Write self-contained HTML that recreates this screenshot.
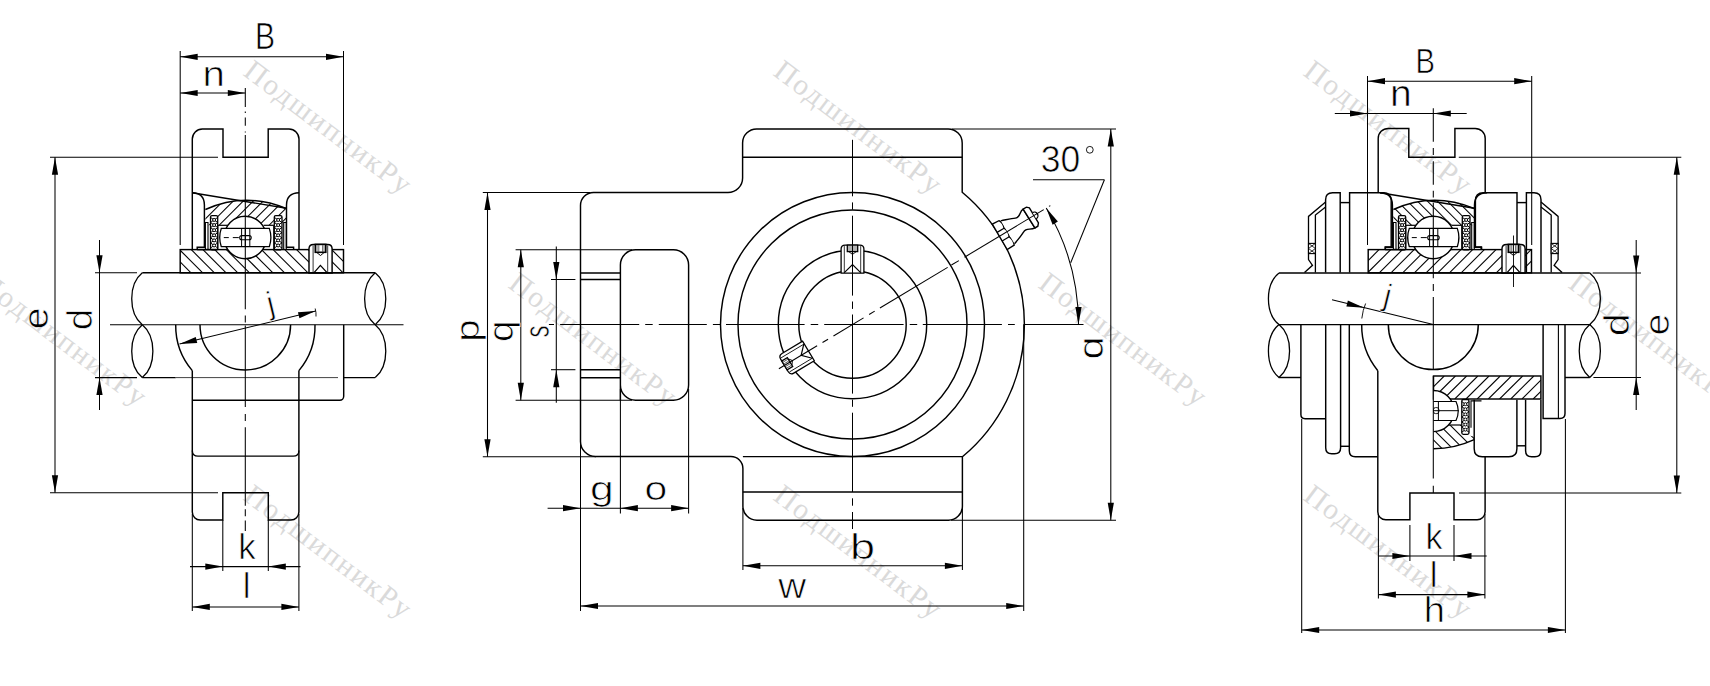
<!DOCTYPE html>
<html><head><meta charset="utf-8"><style>
html,body{margin:0;padding:0;background:#fff;overflow:hidden}
svg{display:block}
</style></head><body>
<svg width="1710" height="686" viewBox="0 0 1710 686">
<rect width="1710" height="686" fill="#fff"/>
<g fill="#dadada" stroke="none" font-family='"Liberation Serif", serif' font-size="29.5" letter-spacing="1.9">
<text x="242.0" y="74.5" transform="rotate(37 242.0 74.5)">ПодшипникРу</text>
<text x="772.0" y="74.5" transform="rotate(37 772.0 74.5)">ПодшипникРу</text>
<text x="1302.0" y="74.5" transform="rotate(37 1302.0 74.5)">ПодшипникРу</text>
<text x="-23.0" y="286.7" transform="rotate(37 -23.0 286.7)">ПодшипникРу</text>
<text x="507.0" y="286.7" transform="rotate(37 507.0 286.7)">ПодшипникРу</text>
<text x="1037.0" y="286.7" transform="rotate(37 1037.0 286.7)">ПодшипникРу</text>
<text x="1567.0" y="286.7" transform="rotate(37 1567.0 286.7)">ПодшипникРу</text>
<text x="242.0" y="498.9" transform="rotate(37 242.0 498.9)">ПодшипникРу</text>
<text x="772.0" y="498.9" transform="rotate(37 772.0 498.9)">ПодшипникРу</text>
<text x="1302.0" y="498.9" transform="rotate(37 1302.0 498.9)">ПодшипникРу</text>
</g>
<g fill="none" stroke="#000" stroke-linecap="butt">
<line x1="180.20" y1="51.00" x2="180.20" y2="245.00" stroke-width="1.05" />
<line x1="343.50" y1="51.00" x2="343.50" y2="245.00" stroke-width="1.05" />
<line x1="180.20" y1="56.80" x2="343.50" y2="56.80" stroke-width="1.05" />
<path d="M180.20,56.80 L197.70,53.70 L197.70,59.90 Z" fill="#000" stroke="none"/>
<path d="M343.50,56.80 L326.00,59.90 L326.00,53.70 Z" fill="#000" stroke="none"/>
<text transform="translate(254.93 49.10) scale(0.834 1)" font-size="36.05" fill="#000" stroke="#fff" stroke-width="0.7" font-family='"Liberation Sans", sans-serif'>B</text>
<line x1="180.20" y1="93.00" x2="245.30" y2="93.00" stroke-width="1.05" />
<path d="M180.20,93.00 L197.70,89.90 L197.70,96.10 Z" fill="#000" stroke="none"/>
<path d="M245.30,93.00 L227.80,96.10 L227.80,89.90 Z" fill="#000" stroke="none"/>
<text transform="translate(202.54 85.80) scale(1.158 1)" font-size="34.76" fill="#000" stroke="#fff" stroke-width="0.7" font-family='"Liberation Sans", sans-serif'>n</text>
<path d="M192.3,249.6 V139 A10,10 0 0 1 202.3,129 H223 V157.2 H268.2 V129 H289 A10,10 0 0 1 299,139 V249.6" stroke-width="1.45" />
<line x1="50.00" y1="157.20" x2="218.00" y2="157.20" stroke-width="1.05" />
<line x1="50.00" y1="492.70" x2="218.00" y2="492.70" stroke-width="1.05" />
<line x1="55.00" y1="157.20" x2="55.00" y2="492.70" stroke-width="1.05" />
<path d="M55.00,157.20 L58.10,174.70 L51.90,174.70 Z" fill="#000" stroke="none"/>
<path d="M55.00,492.70 L51.90,475.20 L58.10,475.20 Z" fill="#000" stroke="none"/>
<text transform="translate(47.64 329.24) rotate(-90) scale(1.089 1)" font-size="35.95" fill="#000" stroke="#fff" stroke-width="0.7" font-family='"Liberation Sans", sans-serif'>e</text>
<line x1="99.50" y1="240.00" x2="99.50" y2="410.00" stroke-width="1.05" />
<path d="M99.50,272.80 L96.40,255.30 L102.60,255.30 Z" fill="#000" stroke="none"/>
<path d="M99.50,377.60 L102.60,395.10 L96.40,395.10 Z" fill="#000" stroke="none"/>
<line x1="95.00" y1="272.80" x2="137.00" y2="272.80" stroke-width="1.05" />
<line x1="95.00" y1="377.60" x2="137.00" y2="377.60" stroke-width="1.05" />
<text transform="translate(91.85 330.13) rotate(-90) scale(1.108 1)" font-size="35.10" fill="#000" stroke="#fff" stroke-width="0.7" font-family='"Liberation Sans", sans-serif'>d</text>
<path d="M192.10000000000002,192.7 Q204.4,193 204.4,205 V247.2 H197.20000000000002 V249.8" stroke-width="1.45" />
<path d="M299.1,192.7 Q286.5,193 286.5,205 V247.2 H293.6 V249.8" stroke-width="1.45" />
<line x1="192.10" y1="192.70" x2="286.50" y2="208.20" stroke-width="1.45" />
<clipPath id="c1"><path d="M205.4,209.5 Q245.3,191.6 286.0,208.5 L286.2,225.3 L205.4,225.3 Z"/></clipPath>
<g clip-path="url(#c1)">
<line x1="194.30" y1="190.00" x2="158.30" y2="226.00" stroke-width="1.05" />
<line x1="204.30" y1="190.00" x2="168.30" y2="226.00" stroke-width="1.05" />
<line x1="214.30" y1="190.00" x2="178.30" y2="226.00" stroke-width="1.05" />
<line x1="224.30" y1="190.00" x2="188.30" y2="226.00" stroke-width="1.05" />
<line x1="234.30" y1="190.00" x2="198.30" y2="226.00" stroke-width="1.05" />
<line x1="244.30" y1="190.00" x2="208.30" y2="226.00" stroke-width="1.05" />
<line x1="254.30" y1="190.00" x2="218.30" y2="226.00" stroke-width="1.05" />
<line x1="264.30" y1="190.00" x2="228.30" y2="226.00" stroke-width="1.05" />
<line x1="274.30" y1="190.00" x2="238.30" y2="226.00" stroke-width="1.05" />
<line x1="284.30" y1="190.00" x2="248.30" y2="226.00" stroke-width="1.05" />
<line x1="294.30" y1="190.00" x2="258.30" y2="226.00" stroke-width="1.05" />
<line x1="304.30" y1="190.00" x2="268.30" y2="226.00" stroke-width="1.05" />
<line x1="314.30" y1="190.00" x2="278.30" y2="226.00" stroke-width="1.05" />
<line x1="324.30" y1="190.00" x2="288.30" y2="226.00" stroke-width="1.05" />
<line x1="334.30" y1="190.00" x2="298.30" y2="226.00" stroke-width="1.05" />
<line x1="344.30" y1="190.00" x2="308.30" y2="226.00" stroke-width="1.05" />
<line x1="354.30" y1="190.00" x2="318.30" y2="226.00" stroke-width="1.05" />
<line x1="364.30" y1="190.00" x2="328.30" y2="226.00" stroke-width="1.05" />
</g>
<path d="M205.4,209.5 Q245.3,191.6 286.0,208.5" stroke-width="1.45" />
<line x1="217.70" y1="225.30" x2="227.90" y2="225.30" stroke-width="1.2" />
<line x1="263.60" y1="225.30" x2="273.80" y2="225.30" stroke-width="1.2" />
<line x1="217.70" y1="225.30" x2="217.70" y2="249.80" stroke-width="1.2" />
<line x1="273.80" y1="225.30" x2="273.80" y2="249.80" stroke-width="1.2" />
<path d="M205.4,249.8 V222.5 H208.0 V249.8" stroke-width="1.1" />
<path d="M286.3,249.8 V222.5 H283.7 V249.8" stroke-width="1.1" />
<rect x="210.5" y="215.6" width="7.200000000000017" height="34.20000000000002" fill="#fff" stroke-width="1.3" rx="1.5"/>
<line x1="210.50" y1="217.40" x2="217.70" y2="222.50" stroke-width="1.0" />
<line x1="217.70" y1="217.40" x2="210.50" y2="222.50" stroke-width="1.0" />
<line x1="210.50" y1="222.50" x2="217.70" y2="227.60" stroke-width="1.0" />
<line x1="217.70" y1="222.50" x2="210.50" y2="227.60" stroke-width="1.0" />
<line x1="210.50" y1="227.60" x2="217.70" y2="232.70" stroke-width="1.0" />
<line x1="217.70" y1="227.60" x2="210.50" y2="232.70" stroke-width="1.0" />
<line x1="210.50" y1="232.70" x2="217.70" y2="237.80" stroke-width="1.0" />
<line x1="217.70" y1="232.70" x2="210.50" y2="237.80" stroke-width="1.0" />
<line x1="210.50" y1="237.80" x2="217.70" y2="242.90" stroke-width="1.0" />
<line x1="217.70" y1="237.80" x2="210.50" y2="242.90" stroke-width="1.0" />
<line x1="210.50" y1="242.90" x2="217.70" y2="248.00" stroke-width="1.0" />
<line x1="217.70" y1="242.90" x2="210.50" y2="248.00" stroke-width="1.0" />
<circle cx="214.10" cy="219.95" r="1.50" stroke-width="1.0" fill="#fff"/>
<circle cx="214.10" cy="225.05" r="1.50" stroke-width="1.0" fill="#fff"/>
<circle cx="214.10" cy="230.15" r="1.50" stroke-width="1.0" fill="#fff"/>
<circle cx="214.10" cy="235.25" r="1.50" stroke-width="1.0" fill="#fff"/>
<circle cx="214.10" cy="240.35" r="1.50" stroke-width="1.0" fill="#fff"/>
<circle cx="214.10" cy="245.45" r="1.50" stroke-width="1.0" fill="#fff"/>
<rect x="274.3" y="215.6" width="7.699999999999989" height="34.20000000000002" fill="#fff" stroke-width="1.3" rx="1.5"/>
<line x1="274.30" y1="217.40" x2="282.00" y2="222.50" stroke-width="1.0" />
<line x1="282.00" y1="217.40" x2="274.30" y2="222.50" stroke-width="1.0" />
<line x1="274.30" y1="222.50" x2="282.00" y2="227.60" stroke-width="1.0" />
<line x1="282.00" y1="222.50" x2="274.30" y2="227.60" stroke-width="1.0" />
<line x1="274.30" y1="227.60" x2="282.00" y2="232.70" stroke-width="1.0" />
<line x1="282.00" y1="227.60" x2="274.30" y2="232.70" stroke-width="1.0" />
<line x1="274.30" y1="232.70" x2="282.00" y2="237.80" stroke-width="1.0" />
<line x1="282.00" y1="232.70" x2="274.30" y2="237.80" stroke-width="1.0" />
<line x1="274.30" y1="237.80" x2="282.00" y2="242.90" stroke-width="1.0" />
<line x1="282.00" y1="237.80" x2="274.30" y2="242.90" stroke-width="1.0" />
<line x1="274.30" y1="242.90" x2="282.00" y2="248.00" stroke-width="1.0" />
<line x1="282.00" y1="242.90" x2="274.30" y2="248.00" stroke-width="1.0" />
<circle cx="278.15" cy="219.95" r="1.50" stroke-width="1.0" fill="#fff"/>
<circle cx="278.15" cy="225.05" r="1.50" stroke-width="1.0" fill="#fff"/>
<circle cx="278.15" cy="230.15" r="1.50" stroke-width="1.0" fill="#fff"/>
<circle cx="278.15" cy="235.25" r="1.50" stroke-width="1.0" fill="#fff"/>
<circle cx="278.15" cy="240.35" r="1.50" stroke-width="1.0" fill="#fff"/>
<circle cx="278.15" cy="245.45" r="1.50" stroke-width="1.0" fill="#fff"/>
<clipPath id="c2"><rect x="180.20000000000002" y="249.7" width="163.3" height="23.1"/></clipPath>
<g clip-path="url(#c2)">
<line x1="144.50" y1="249.70" x2="167.60" y2="272.80" stroke-width="1.1" />
<line x1="156.20" y1="249.70" x2="179.30" y2="272.80" stroke-width="1.1" />
<line x1="167.90" y1="249.70" x2="191.00" y2="272.80" stroke-width="1.1" />
<line x1="179.60" y1="249.70" x2="202.70" y2="272.80" stroke-width="1.1" />
<line x1="191.30" y1="249.70" x2="214.40" y2="272.80" stroke-width="1.1" />
<line x1="203.00" y1="249.70" x2="226.10" y2="272.80" stroke-width="1.1" />
<line x1="214.70" y1="249.70" x2="237.80" y2="272.80" stroke-width="1.1" />
<line x1="226.40" y1="249.70" x2="249.50" y2="272.80" stroke-width="1.1" />
<line x1="238.10" y1="249.70" x2="261.20" y2="272.80" stroke-width="1.1" />
<line x1="249.80" y1="249.70" x2="272.90" y2="272.80" stroke-width="1.1" />
<line x1="261.50" y1="249.70" x2="284.60" y2="272.80" stroke-width="1.1" />
<line x1="273.20" y1="249.70" x2="296.30" y2="272.80" stroke-width="1.1" />
<line x1="284.90" y1="249.70" x2="308.00" y2="272.80" stroke-width="1.1" />
<line x1="296.60" y1="249.70" x2="319.70" y2="272.80" stroke-width="1.1" />
<line x1="308.30" y1="249.70" x2="331.40" y2="272.80" stroke-width="1.1" />
<line x1="320.00" y1="249.70" x2="343.10" y2="272.80" stroke-width="1.1" />
<line x1="331.70" y1="249.70" x2="354.80" y2="272.80" stroke-width="1.1" />
<line x1="343.40" y1="249.70" x2="366.50" y2="272.80" stroke-width="1.1" />
<line x1="355.10" y1="249.70" x2="378.20" y2="272.80" stroke-width="1.1" />
<line x1="366.80" y1="249.70" x2="389.90" y2="272.80" stroke-width="1.1" />
<line x1="378.50" y1="249.70" x2="401.60" y2="272.80" stroke-width="1.1" />
</g>
<rect x="180.20000000000002" y="249.6" width="163.3" height="23.2" fill="none" stroke-width="1.45"/>
<circle cx="245.20" cy="237.50" r="21.20" stroke-width="1.45" fill="#fff"/>
<path d="M221.3,228.4 H269.3 Q272.5,237.5 269.3,246.7 H221.3 Q218.10000000000002,237.5 221.3,228.4 Z" fill="#fff" stroke-width="1.3"/>
<line x1="241.60" y1="228.40" x2="241.60" y2="246.70" stroke-width="1.0" />
<line x1="245.30" y1="228.40" x2="245.30" y2="246.70" stroke-width="1.0" />
<line x1="249.80" y1="228.40" x2="249.80" y2="246.70" stroke-width="1.0" />
<line x1="223.80" y1="237.60" x2="228.80" y2="237.60" stroke-width="1.0" />
<line x1="232.80" y1="237.60" x2="238.80" y2="237.60" stroke-width="1.0" />
<rect x="239.70000000000002" y="235.6" width="11.5" height="4.2" rx="2" fill="none" stroke-width="1.1"/>
<line x1="197.20" y1="249.60" x2="217.70" y2="249.60" stroke-width="1.45" />
<path d="M309.0,273.0 V248.8 Q309.0,244.4 313.4,244.4 H327.70000000000005 Q332.1,244.4 332.1,248.8 V273.0 Z" fill="#fff" stroke-width="1.45"/>
<line x1="313.10" y1="245.40" x2="313.10" y2="273.00" stroke-width="0.8" />
<line x1="327.70" y1="245.40" x2="327.70" y2="273.00" stroke-width="0.8" />
<rect x="315.3" y="244.4" width="10.5" height="7.9" fill="#fff" stroke-width="1.6"/>
<line x1="317.00" y1="245.20" x2="317.00" y2="251.60" stroke-width="0.6" />
<line x1="318.80" y1="245.20" x2="318.80" y2="251.60" stroke-width="0.6" />
<line x1="322.60" y1="245.20" x2="322.60" y2="251.60" stroke-width="0.6" />
<line x1="324.10" y1="245.20" x2="324.10" y2="251.60" stroke-width="0.6" />
<path d="M316.9,252.6 L320.5,255.5 L324.0,252.6" stroke-width="1.0" />
<path d="M314.3,272.4 L320.4,265.4 L326.8,272.4" stroke-width="1.3" />
<line x1="142.30" y1="272.80" x2="375.20" y2="272.80" stroke-width="1.45" />
<line x1="142.30" y1="377.60" x2="175.70" y2="377.60" stroke-width="1.45" />
<line x1="175.70" y1="377.60" x2="338.00" y2="377.60" stroke-width="1.0" stroke="#444"/>
<line x1="343.70" y1="377.60" x2="375.20" y2="377.60" stroke-width="1.45" />
<path d="M142.3,272.8 C128.202,284.218 128.202,313.282 142.3,324.7" stroke-width="1.3" />
<path d="M142.3,324.7 C128.202,336.338 128.202,365.962 142.3,377.6" stroke-width="1.3" />
<path d="M142.3,324.7 C156.39800000000002,336.338 156.39800000000002,365.962 142.3,377.6" stroke-width="1.3" />
<path d="M375.2,272.8 C389.298,284.218 389.298,313.282 375.2,324.7" stroke-width="1.3" />
<path d="M375.2,272.8 C361.102,284.218 361.102,313.282 375.2,324.7" stroke-width="1.3" />
<path d="M375.2,324.7 C389.298,336.338 389.298,365.962 375.2,377.6" stroke-width="1.3" />
<line x1="110.00" y1="324.70" x2="403.50" y2="324.70" stroke-width="1.1" />
<path d="M175.7,324.7 A69.6,69.6 0 0 0 192.3,370.6" stroke-width="1.45" />
<path d="M315,324.7 A69.6,69.6 0 0 1 298.9,370.6" stroke-width="1.45" />
<path d="M200,324.7 A45.3,45.3 0 0 0 290.6,324.7" stroke-width="1.45" />
<path d="M192.3,370.6 V512 A8,8 0 0 0 200.3,520 H222.8 V492.7 H268.3 V520 H290.9 A8,8 0 0 0 298.9,512 V370.6" stroke-width="1.45" />
<path d="M343.7,324.7 V396.3 A4,4 0 0 1 339.7,400.3 H192.3" stroke-width="1.45" />
<path d="M192.3,450.5 Q192.3,456.2 198,456.2 H293.2 Q298.9,456.2 298.9,450.5" stroke-width="1.3" />
<line x1="222.80" y1="520.00" x2="222.80" y2="571.00" stroke-width="1.05" />
<line x1="268.30" y1="520.00" x2="268.30" y2="571.00" stroke-width="1.05" />
<line x1="190.00" y1="566.60" x2="300.50" y2="566.60" stroke-width="1.05" />
<path d="M222.80,566.60 L205.30,569.70 L205.30,563.50 Z" fill="#000" stroke="none"/>
<path d="M268.30,566.60 L285.80,563.50 L285.80,569.70 Z" fill="#000" stroke="none"/>
<text transform="translate(238.15 559.40) scale(0.977 1)" font-size="35.86" fill="#000" stroke="#fff" stroke-width="0.7" font-family='"Liberation Sans", sans-serif'>k</text>
<line x1="192.30" y1="514.00" x2="192.30" y2="611.00" stroke-width="1.05" />
<line x1="298.90" y1="514.00" x2="298.90" y2="611.00" stroke-width="1.05" />
<line x1="192.30" y1="606.90" x2="298.90" y2="606.90" stroke-width="1.05" />
<path d="M192.30,606.90 L209.80,603.80 L209.80,610.00 Z" fill="#000" stroke="none"/>
<path d="M298.90,606.90 L281.40,610.00 L281.40,603.80 Z" fill="#000" stroke="none"/>
<text transform="translate(242.75 598.10) scale(1.000 1)" font-size="35.03" fill="#000" stroke="#fff" stroke-width="0.7" font-family='"Liberation Sans", sans-serif'>l</text>
<line x1="179.50" y1="344.10" x2="315.70" y2="311.10" stroke-width="1.05" />
<path d="M179.50,344.10 L195.78,336.97 L197.24,342.99 Z" fill="#000" stroke="none"/>
<path d="M315.70,311.10 L299.42,318.23 L297.96,312.21 Z" fill="#000" stroke="none"/>
<g transform="translate(269.50 306.00) rotate(-13.6)"><text x="-2.11" y="8.31" font-size="32.15" fill="#000" stroke="#fff" stroke-width="0.7" font-family='"Liberation Sans", sans-serif'>j</text></g>
<path d="M315.2,308.5 Q316.3,312.5 316,316.5" stroke-width="0.9" />
<line x1="245.30" y1="87.90" x2="245.30" y2="107.10" stroke-width="1.05" />
<line x1="245.30" y1="111.50" x2="245.30" y2="112.90" stroke-width="1.05" />
<line x1="245.30" y1="117.60" x2="245.30" y2="125.80" stroke-width="1.05" />
<line x1="245.30" y1="131.60" x2="245.30" y2="132.50" stroke-width="1.05" />
<line x1="245.30" y1="135.10" x2="245.30" y2="309.30" stroke-width="1.05" />
<line x1="245.30" y1="315.40" x2="245.30" y2="322.60" stroke-width="1.05" />
<line x1="245.30" y1="325.50" x2="245.30" y2="407.10" stroke-width="1.05" />
<line x1="245.30" y1="414.10" x2="245.30" y2="421.10" stroke-width="1.05" />
<line x1="245.30" y1="427.20" x2="245.30" y2="505.70" stroke-width="1.05" />
<line x1="245.30" y1="509.20" x2="245.30" y2="516.20" stroke-width="1.05" />
<line x1="245.30" y1="520.60" x2="245.30" y2="531.10" stroke-width="1.05" />
<path d="M580.5,205.5 A13,13 0 0 1 593.5,192.5 H728 A14.6,14.6 0 0 0 742.6,177.9 V143 A14,14 0 0 1 756.6,129 H948.2 A14,14 0 0 1 962.2,143 V192.2 A172,172 0 0 1 962.4,456.8 V506.2 A14,14 0 0 1 948.4,520.2 H756.9 A14,14 0 0 1 742.9,506.2 V468.5 A12,12 0 0 0 730.9,456.5 H595.5 A15,15 0 0 1 580.5,441.5 Z" stroke-width="1.45" />
<line x1="742.60" y1="157.20" x2="962.20" y2="157.20" stroke-width="1.45" />
<line x1="742.90" y1="491.90" x2="962.40" y2="491.90" stroke-width="1.45" />
<line x1="742.90" y1="456.60" x2="962.40" y2="456.60" stroke-width="1.45" />
<circle cx="852.50" cy="324.50" r="132.00" stroke-width="1.45" />
<circle cx="852.50" cy="324.50" r="114.50" stroke-width="1.45" />
<circle cx="852.50" cy="324.50" r="74.20" stroke-width="1.45" />
<circle cx="852.50" cy="324.50" r="53.70" stroke-width="1.45" />
<path d="M620.4,400.3 V264.9 A15.2,15.2 0 0 1 635.6,249.7 H673.4 A15.2,15.2 0 0 1 688.6,264.9 V385.1 A15.2,15.2 0 0 1 673.4,400.3 H635.6 A15.2,15.2 0 0 1 620.4,385.1" stroke-width="1.45" />
<line x1="580.50" y1="272.90" x2="620.40" y2="272.90" stroke-width="1.45" />
<line x1="580.50" y1="279.50" x2="620.40" y2="279.50" stroke-width="1.45" />
<line x1="580.50" y1="369.70" x2="620.40" y2="369.70" stroke-width="1.45" />
<line x1="580.50" y1="377.70" x2="620.40" y2="377.70" stroke-width="1.45" />
<g transform="translate(852.5 324.5) rotate(0)">
<path d="M-11.4,-51.4 V-75.4 Q-11.4,-79.4 -7.4,-79.4 H7.4 Q11.4,-79.4 11.4,-75.4 V-51.4 Z" fill="#fff" stroke-width="1.3"/>
<line x1="-8.20" y1="-78.40" x2="-8.20" y2="-51.40" stroke-width="0.8" />
<line x1="8.20" y1="-78.40" x2="8.20" y2="-51.40" stroke-width="0.8" />
<rect x="-5.2" y="-79.4" width="10.4" height="6.5" fill="#fff" stroke-width="1.3"/>
<line x1="-3.50" y1="-78.80" x2="-3.50" y2="-73.40" stroke-width="0.6" />
<line x1="-1.50" y1="-78.80" x2="-1.50" y2="-73.40" stroke-width="0.6" />
<line x1="1.50" y1="-78.80" x2="1.50" y2="-73.40" stroke-width="0.6" />
<line x1="3.50" y1="-78.80" x2="3.50" y2="-73.40" stroke-width="0.6" />
<path d="M-3.5,-72.7 L0,-70.10000000000001 L3.5,-72.7" stroke-width="0.9" />
<path d="M-8.2,-51.9 L0,-59.9 L8.2,-51.9" stroke-width="1.2" />
</g>
<g transform="translate(852.5 324.5) rotate(-121)">
<path d="M-11.4,-51.4 V-75.4 Q-11.4,-79.4 -7.4,-79.4 H7.4 Q11.4,-79.4 11.4,-75.4 V-51.4 Z" fill="#fff" stroke-width="1.3"/>
<line x1="-8.20" y1="-78.40" x2="-8.20" y2="-51.40" stroke-width="0.8" />
<line x1="8.20" y1="-78.40" x2="8.20" y2="-51.40" stroke-width="0.8" />
<rect x="-5.2" y="-79.4" width="10.4" height="6.5" fill="#fff" stroke-width="1.3"/>
<line x1="-3.50" y1="-78.80" x2="-3.50" y2="-73.40" stroke-width="0.6" />
<line x1="-1.50" y1="-78.80" x2="-1.50" y2="-73.40" stroke-width="0.6" />
<line x1="1.50" y1="-78.80" x2="1.50" y2="-73.40" stroke-width="0.6" />
<line x1="3.50" y1="-78.80" x2="3.50" y2="-73.40" stroke-width="0.6" />
<path d="M-3.5,-72.7 L0,-70.10000000000001 L3.5,-72.7" stroke-width="0.9" />
<path d="M-8.2,-51.9 L0,-59.9 L8.2,-51.9" stroke-width="1.2" />
</g>
<g transform="translate(852.5 324.5) rotate(-31)">
<path d="M171.5,-14 L179,-13.5 Q181.5,-9.5 179.5,-4.5 Q182,0.5 179.5,5.5 Q181.5,10.5 179.5,15.2 L171.2,15.4 Z" fill="#fff" stroke-width="1.4"/>
<line x1="171.40" y1="-4.50" x2="179.50" y2="-4.50" stroke-width="1.2" />
<line x1="171.30" y1="5.50" x2="179.50" y2="5.50" stroke-width="1.2" />
<path d="M180.5,-12.5 C186,-10.5 191,-9 194.4,-7.3 C199,-5 201,-11 205.7,-11 L206.1,11.2 C201,11.2 199,6 194.4,8.8 C191,10.5 186,12.5 180.5,14.2" fill="#fff" stroke-width="1.4"/>
<path d="M205.7,-11 L209.5,-11 L211.7,-8.9 L211.7,8.7 L209.5,11.2 L206.1,11.2 Z" fill="#fff" stroke-width="1.4"/>
<path d="M211.9,-3.2 A3.6,3.6 0 0 1 211.9,4" fill="#fff" stroke-width="1.3"/>
</g>
<line x1="482.80" y1="192.50" x2="590.00" y2="192.50" stroke-width="1.05" />
<line x1="482.80" y1="456.70" x2="596.00" y2="456.70" stroke-width="1.05" />
<line x1="487.50" y1="192.50" x2="487.50" y2="456.70" stroke-width="1.05" />
<path d="M487.50,192.50 L490.60,210.00 L484.40,210.00 Z" fill="#000" stroke="none"/>
<path d="M487.50,456.70 L484.40,439.20 L490.60,439.20 Z" fill="#000" stroke="none"/>
<text transform="translate(479.45 341.67) rotate(-90) scale(1.186 1)" font-size="33.91" fill="#000" stroke="#fff" stroke-width="0.7" font-family='"Liberation Sans", sans-serif'>p</text>
<line x1="515.60" y1="249.70" x2="632.00" y2="249.70" stroke-width="1.05" />
<line x1="515.60" y1="400.30" x2="632.00" y2="400.30" stroke-width="1.05" />
<line x1="520.80" y1="249.70" x2="520.80" y2="400.30" stroke-width="1.05" />
<path d="M520.80,249.70 L523.90,267.20 L517.70,267.20 Z" fill="#000" stroke="none"/>
<path d="M520.80,400.30 L517.70,382.80 L523.90,382.80 Z" fill="#000" stroke="none"/>
<text transform="translate(512.86 342.02) rotate(-90) scale(1.127 1)" font-size="34.32" fill="#000" stroke="#fff" stroke-width="0.7" font-family='"Liberation Sans", sans-serif'>q</text>
<line x1="551.00" y1="279.50" x2="575.40" y2="279.50" stroke-width="1.05" />
<line x1="551.00" y1="369.70" x2="575.40" y2="369.70" stroke-width="1.05" />
<line x1="556.30" y1="246.60" x2="556.30" y2="402.70" stroke-width="1.05" />
<path d="M556.30,279.50 L553.20,262.00 L559.40,262.00 Z" fill="#000" stroke="none"/>
<path d="M556.30,369.70 L559.40,387.20 L553.20,387.20 Z" fill="#000" stroke="none"/>
<text transform="translate(549.15 337.47) rotate(-90) scale(0.679 1)" font-size="35.47" fill="#000" stroke="#fff" stroke-width="0.7" font-family='"Liberation Sans", sans-serif'>s</text>
<line x1="580.50" y1="441.00" x2="580.50" y2="611.00" stroke-width="1.05" />
<line x1="620.40" y1="389.00" x2="620.40" y2="513.50" stroke-width="1.05" />
<line x1="688.60" y1="389.00" x2="688.60" y2="513.50" stroke-width="1.05" />
<line x1="547.60" y1="508.20" x2="688.60" y2="508.20" stroke-width="1.05" />
<path d="M580.50,508.20 L563.00,511.30 L563.00,505.10 Z" fill="#000" stroke="none"/>
<path d="M620.40,508.20 L637.90,505.10 L637.90,511.30 Z" fill="#000" stroke="none"/>
<path d="M688.60,508.20 L671.10,511.30 L671.10,505.10 Z" fill="#000" stroke="none"/>
<text transform="translate(590.11 500.26) scale(1.297 1)" font-size="32.89" fill="#000" stroke="#fff" stroke-width="0.7" font-family='"Liberation Sans", sans-serif'>g</text>
<text transform="translate(644.38 500.27) scale(1.245 1)" font-size="32.85" fill="#000" stroke="#fff" stroke-width="0.7" font-family='"Liberation Sans", sans-serif'>o</text>
<line x1="742.90" y1="508.00" x2="742.90" y2="570.00" stroke-width="1.05" />
<line x1="962.40" y1="508.00" x2="962.40" y2="570.00" stroke-width="1.05" />
<line x1="742.90" y1="565.80" x2="962.40" y2="565.80" stroke-width="1.05" />
<path d="M742.90,565.80 L760.40,562.70 L760.40,568.90 Z" fill="#000" stroke="none"/>
<path d="M962.40,565.80 L944.90,568.90 L944.90,562.70 Z" fill="#000" stroke="none"/>
<text transform="translate(850.08 559.05) scale(1.287 1)" font-size="34.97" fill="#000" stroke="#fff" stroke-width="0.7" font-family='"Liberation Sans", sans-serif'>b</text>
<line x1="1023.70" y1="324.50" x2="1023.70" y2="611.00" stroke-width="1.05" />
<line x1="580.50" y1="606.00" x2="1023.70" y2="606.00" stroke-width="1.05" />
<path d="M580.50,606.00 L598.00,602.90 L598.00,609.10 Z" fill="#000" stroke="none"/>
<path d="M1023.70,606.00 L1006.20,609.10 L1006.20,602.90 Z" fill="#000" stroke="none"/>
<text transform="translate(778.24 597.90) scale(1.090 1)" font-size="35.42" fill="#000" stroke="#fff" stroke-width="0.7" font-family='"Liberation Sans", sans-serif'>w</text>
<line x1="952.00" y1="129.00" x2="1116.00" y2="129.00" stroke-width="1.05" />
<line x1="951.00" y1="520.20" x2="1116.00" y2="520.20" stroke-width="1.05" />
<line x1="1110.80" y1="129.00" x2="1110.80" y2="520.20" stroke-width="1.05" />
<path d="M1110.80,129.00 L1113.90,146.50 L1107.70,146.50 Z" fill="#000" stroke="none"/>
<path d="M1110.80,520.20 L1107.70,502.70 L1113.90,502.70 Z" fill="#000" stroke="none"/>
<text transform="translate(1103.15 359.55) rotate(-90) scale(1.174 1)" font-size="35.40" fill="#000" stroke="#fff" stroke-width="0.7" font-family='"Liberation Sans", sans-serif'>&#x251;</text>
<line x1="1023.60" y1="324.50" x2="1083.50" y2="324.50" stroke-width="1.05" />
<path d="M1078.5,324.5 A226,226 0 0 0 1046.22,208.10" stroke-width="1.05" />
<path d="M1078.50,324.50 L1075.40,307.00 L1081.60,307.00 Z" fill="#000" stroke="none"/>
<path d="M1046.22,208.10 L1057.89,221.51 L1052.58,224.70 Z" fill="#000" stroke="none"/>
<line x1="1033.00" y1="179.70" x2="1104.40" y2="179.70" stroke-width="1.05" />
<line x1="1104.40" y1="179.70" x2="1070.70" y2="262.80" stroke-width="1.05" />
<text transform="translate(1040.75 172.04) scale(0.983 1)" font-size="36.16" fill="#000" stroke="#fff" stroke-width="0.7" font-family='"Liberation Sans", sans-serif'>30</text>
<circle cx="1089.80" cy="149.80" r="3.40" stroke-width="0.9" />
<line x1="852.50" y1="139.80" x2="852.50" y2="196.30" stroke-width="1.05" />
<line x1="852.50" y1="202.40" x2="852.50" y2="209.60" stroke-width="1.05" />
<line x1="852.50" y1="215.70" x2="852.50" y2="295.60" stroke-width="1.05" />
<line x1="852.50" y1="301.50" x2="852.50" y2="308.90" stroke-width="1.05" />
<line x1="852.50" y1="314.50" x2="852.50" y2="393.60" stroke-width="1.05" />
<line x1="852.50" y1="399.70" x2="852.50" y2="406.80" stroke-width="1.05" />
<line x1="852.50" y1="412.70" x2="852.50" y2="492.00" stroke-width="1.05" />
<line x1="852.50" y1="498.30" x2="852.50" y2="505.70" stroke-width="1.05" />
<line x1="852.50" y1="512.00" x2="852.50" y2="529.00" stroke-width="1.05" />
<line x1="548.90" y1="324.50" x2="554.00" y2="324.50" stroke-width="1.05" />
<line x1="560.10" y1="324.50" x2="639.20" y2="324.50" stroke-width="1.05" />
<line x1="645.20" y1="324.50" x2="652.70" y2="324.50" stroke-width="1.05" />
<line x1="658.80" y1="324.50" x2="706.80" y2="324.50" stroke-width="1.05" />
<line x1="712.90" y1="324.50" x2="720.90" y2="324.50" stroke-width="1.05" />
<line x1="726.00" y1="324.50" x2="804.60" y2="324.50" stroke-width="1.05" />
<line x1="810.70" y1="324.50" x2="818.20" y2="324.50" stroke-width="1.05" />
<line x1="824.20" y1="324.50" x2="903.60" y2="324.50" stroke-width="1.05" />
<line x1="909.70" y1="324.50" x2="917.20" y2="324.50" stroke-width="1.05" />
<line x1="922.80" y1="324.50" x2="1001.90" y2="324.50" stroke-width="1.05" />
<line x1="1008.00" y1="324.50" x2="1014.80" y2="324.50" stroke-width="1.05" />
<line x1="778.87" y1="368.74" x2="817.10" y2="345.77" stroke-width="1.05" />
<line x1="822.50" y1="342.53" x2="828.07" y2="339.18" stroke-width="1.05" />
<line x1="833.47" y1="335.93" x2="863.56" y2="317.86" stroke-width="1.05" />
<line x1="869.13" y1="314.51" x2="874.70" y2="311.16" stroke-width="1.05" />
<line x1="879.93" y1="308.02" x2="947.65" y2="267.33" stroke-width="1.05" />
<line x1="951.42" y1="265.06" x2="958.87" y2="260.58" stroke-width="1.05" />
<line x1="964.53" y1="257.18" x2="1043.73" y2="209.60" stroke-width="1.05" />
<line x1="1049.05" y1="206.40" x2="1050.33" y2="205.63" stroke-width="1.05" />
<line x1="1367.50" y1="76.00" x2="1367.50" y2="245.00" stroke-width="1.05" />
<line x1="1531.70" y1="76.00" x2="1531.70" y2="245.00" stroke-width="1.05" />
<line x1="1367.50" y1="81.20" x2="1531.70" y2="81.20" stroke-width="1.05" />
<path d="M1367.50,81.20 L1385.00,78.10 L1385.00,84.30 Z" fill="#000" stroke="none"/>
<path d="M1531.70,81.20 L1514.20,84.30 L1514.20,78.10 Z" fill="#000" stroke="none"/>
<text transform="translate(1415.41 72.80) scale(0.815 1)" font-size="35.76" fill="#000" stroke="#fff" stroke-width="0.7" font-family='"Liberation Sans", sans-serif'>B</text>
<line x1="1334.80" y1="113.50" x2="1466.70" y2="113.50" stroke-width="1.05" />
<path d="M1367.50,113.50 L1350.00,116.60 L1350.00,110.40 Z" fill="#000" stroke="none"/>
<path d="M1433.30,113.50 L1450.80,110.40 L1450.80,116.60 Z" fill="#000" stroke="none"/>
<text transform="translate(1390.12 106.10) scale(1.067 1)" font-size="36.62" fill="#000" stroke="#fff" stroke-width="0.7" font-family='"Liberation Sans", sans-serif'>n</text>
<path d="M1378.2,192.8 V138.4 A10,10 0 0 1 1388.2,128.4 H1408.8 V157.2 H1454.9 V128.4 H1475.2 A10,10 0 0 1 1485.2,138.4 V192.8" stroke-width="1.45" />
<line x1="1458.80" y1="157.20" x2="1681.30" y2="157.20" stroke-width="1.05" />
<line x1="1459.00" y1="493.00" x2="1681.30" y2="493.00" stroke-width="1.05" />
<line x1="1676.80" y1="157.20" x2="1676.80" y2="493.00" stroke-width="1.05" />
<path d="M1676.80,157.20 L1679.90,174.70 L1673.70,174.70 Z" fill="#000" stroke="none"/>
<path d="M1676.80,493.00 L1673.70,475.50 L1679.90,475.50 Z" fill="#000" stroke="none"/>
<text transform="translate(1668.55 335.56) rotate(-90) scale(1.141 1)" font-size="34.67" fill="#000" stroke="#fff" stroke-width="0.7" font-family='"Liberation Sans", sans-serif'>e</text>
<line x1="1636.20" y1="240.00" x2="1636.20" y2="410.00" stroke-width="1.05" />
<path d="M1636.20,272.90 L1633.10,255.40 L1639.30,255.40 Z" fill="#000" stroke="none"/>
<path d="M1636.20,377.50 L1639.30,395.00 L1633.10,395.00 Z" fill="#000" stroke="none"/>
<line x1="1592.70" y1="272.90" x2="1641.00" y2="272.90" stroke-width="1.05" />
<line x1="1593.40" y1="377.50" x2="1641.00" y2="377.50" stroke-width="1.05" />
<text transform="translate(1628.85 336.34) rotate(-90) scale(1.173 1)" font-size="35.24" fill="#000" stroke="#fff" stroke-width="0.7" font-family='"Liberation Sans", sans-serif'>d</text>
<path d="M1304.5,272.6 L1312.5,265.3 L1308.5,259.5 V216.4 L1325.6,201.9" stroke-width="1.3" />
<path d="M1315.4,272.6 V215 L1325.6,207" stroke-width="1.3" />
<rect x="1308.5" y="243.4" width="6.900000000000091" height="10.199999999999989" fill="#fff" stroke-width="1.1"/>
<line x1="1308.50" y1="243.40" x2="1315.40" y2="248.50" stroke-width="0.8" />
<line x1="1315.40" y1="243.40" x2="1308.50" y2="248.50" stroke-width="0.8" />
<line x1="1308.50" y1="248.50" x2="1315.40" y2="253.60" stroke-width="0.8" />
<line x1="1315.40" y1="248.50" x2="1308.50" y2="253.60" stroke-width="0.8" />
<path d="M1325.6,272.6 V199.8 Q1325.6,192.8 1332.6,192.8 H1340.2 V272.6" stroke-width="1.45" />
<line x1="1340.20" y1="202.60" x2="1349.60" y2="202.60" stroke-width="1.45" />
<path d="M1349.6,272.6 V192.8 H1383.2 Q1391.2,192.8 1391.2,200.8 V247 H1385.4 V249.7" stroke-width="1.45" />
<path d="M1562.1,272.6 L1554.1,265.3 L1558.1,259.5 V216.4 L1541.0,201.9" stroke-width="1.3" />
<path d="M1551.1999999999998,272.6 V215 L1541.0,207" stroke-width="1.3" />
<rect x="1551.1999999999998" y="243.4" width="6.900000000000091" height="10.199999999999989" fill="#fff" stroke-width="1.1"/>
<line x1="1551.20" y1="243.40" x2="1558.10" y2="248.50" stroke-width="0.8" />
<line x1="1558.10" y1="243.40" x2="1551.20" y2="248.50" stroke-width="0.8" />
<line x1="1551.20" y1="248.50" x2="1558.10" y2="253.60" stroke-width="0.8" />
<line x1="1558.10" y1="248.50" x2="1551.20" y2="253.60" stroke-width="0.8" />
<path d="M1541.0,272.6 V199.8 Q1541.0,192.8 1534.0,192.8 H1526.3999999999999 V272.6" stroke-width="1.45" />
<line x1="1526.40" y1="202.60" x2="1517.00" y2="202.60" stroke-width="1.45" />
<path d="M1517.0,272.6 V192.8 H1483.3999999999999 Q1475.3999999999999,192.8 1475.3999999999999,200.8 V247 H1481.1999999999998 V249.7" stroke-width="1.45" />
<path d="M1380.1,192.7 Q1392.3999999999999,193 1392.3999999999999,205 V247.2 H1385.2 V249.8" stroke-width="1.45" />
<path d="M1487.1,192.7 Q1474.5,193 1474.5,205 V247.2 H1481.6 V249.8" stroke-width="1.45" />
<line x1="1380.10" y1="192.70" x2="1474.50" y2="208.20" stroke-width="1.45" />
<clipPath id="c3"><path d="M1393.3999999999999,209.5 Q1433.3,191.6 1474.0,208.5 L1474.2,225.3 L1393.3999999999999,225.3 Z"/></clipPath>
<g clip-path="url(#c3)">
<line x1="1346.30" y1="190.00" x2="1382.30" y2="226.00" stroke-width="1.05" />
<line x1="1356.30" y1="190.00" x2="1392.30" y2="226.00" stroke-width="1.05" />
<line x1="1366.30" y1="190.00" x2="1402.30" y2="226.00" stroke-width="1.05" />
<line x1="1376.30" y1="190.00" x2="1412.30" y2="226.00" stroke-width="1.05" />
<line x1="1386.30" y1="190.00" x2="1422.30" y2="226.00" stroke-width="1.05" />
<line x1="1396.30" y1="190.00" x2="1432.30" y2="226.00" stroke-width="1.05" />
<line x1="1406.30" y1="190.00" x2="1442.30" y2="226.00" stroke-width="1.05" />
<line x1="1416.30" y1="190.00" x2="1452.30" y2="226.00" stroke-width="1.05" />
<line x1="1426.30" y1="190.00" x2="1462.30" y2="226.00" stroke-width="1.05" />
<line x1="1436.30" y1="190.00" x2="1472.30" y2="226.00" stroke-width="1.05" />
<line x1="1446.30" y1="190.00" x2="1482.30" y2="226.00" stroke-width="1.05" />
<line x1="1456.30" y1="190.00" x2="1492.30" y2="226.00" stroke-width="1.05" />
<line x1="1466.30" y1="190.00" x2="1502.30" y2="226.00" stroke-width="1.05" />
<line x1="1476.30" y1="190.00" x2="1512.30" y2="226.00" stroke-width="1.05" />
<line x1="1486.30" y1="190.00" x2="1522.30" y2="226.00" stroke-width="1.05" />
<line x1="1496.30" y1="190.00" x2="1532.30" y2="226.00" stroke-width="1.05" />
<line x1="1506.30" y1="190.00" x2="1542.30" y2="226.00" stroke-width="1.05" />
<line x1="1516.30" y1="190.00" x2="1552.30" y2="226.00" stroke-width="1.05" />
</g>
<path d="M1393.3999999999999,209.5 Q1433.3,191.6 1474.0,208.5" stroke-width="1.45" />
<line x1="1405.70" y1="225.30" x2="1415.90" y2="225.30" stroke-width="1.2" />
<line x1="1451.60" y1="225.30" x2="1461.80" y2="225.30" stroke-width="1.2" />
<line x1="1405.70" y1="225.30" x2="1405.70" y2="249.80" stroke-width="1.2" />
<line x1="1461.80" y1="225.30" x2="1461.80" y2="249.80" stroke-width="1.2" />
<path d="M1393.3999999999999,249.8 V222.5 H1396.0 V249.8" stroke-width="1.1" />
<path d="M1474.3,249.8 V222.5 H1471.7 V249.8" stroke-width="1.1" />
<rect x="1398.5" y="215.6" width="7.2000000000000455" height="34.20000000000002" fill="#fff" stroke-width="1.3" rx="1.5"/>
<line x1="1398.50" y1="217.40" x2="1405.70" y2="222.50" stroke-width="1.0" />
<line x1="1405.70" y1="217.40" x2="1398.50" y2="222.50" stroke-width="1.0" />
<line x1="1398.50" y1="222.50" x2="1405.70" y2="227.60" stroke-width="1.0" />
<line x1="1405.70" y1="222.50" x2="1398.50" y2="227.60" stroke-width="1.0" />
<line x1="1398.50" y1="227.60" x2="1405.70" y2="232.70" stroke-width="1.0" />
<line x1="1405.70" y1="227.60" x2="1398.50" y2="232.70" stroke-width="1.0" />
<line x1="1398.50" y1="232.70" x2="1405.70" y2="237.80" stroke-width="1.0" />
<line x1="1405.70" y1="232.70" x2="1398.50" y2="237.80" stroke-width="1.0" />
<line x1="1398.50" y1="237.80" x2="1405.70" y2="242.90" stroke-width="1.0" />
<line x1="1405.70" y1="237.80" x2="1398.50" y2="242.90" stroke-width="1.0" />
<line x1="1398.50" y1="242.90" x2="1405.70" y2="248.00" stroke-width="1.0" />
<line x1="1405.70" y1="242.90" x2="1398.50" y2="248.00" stroke-width="1.0" />
<circle cx="1402.10" cy="219.95" r="1.50" stroke-width="1.0" fill="#fff"/>
<circle cx="1402.10" cy="225.05" r="1.50" stroke-width="1.0" fill="#fff"/>
<circle cx="1402.10" cy="230.15" r="1.50" stroke-width="1.0" fill="#fff"/>
<circle cx="1402.10" cy="235.25" r="1.50" stroke-width="1.0" fill="#fff"/>
<circle cx="1402.10" cy="240.35" r="1.50" stroke-width="1.0" fill="#fff"/>
<circle cx="1402.10" cy="245.45" r="1.50" stroke-width="1.0" fill="#fff"/>
<rect x="1462.3" y="215.6" width="7.7000000000000455" height="34.20000000000002" fill="#fff" stroke-width="1.3" rx="1.5"/>
<line x1="1462.30" y1="217.40" x2="1470.00" y2="222.50" stroke-width="1.0" />
<line x1="1470.00" y1="217.40" x2="1462.30" y2="222.50" stroke-width="1.0" />
<line x1="1462.30" y1="222.50" x2="1470.00" y2="227.60" stroke-width="1.0" />
<line x1="1470.00" y1="222.50" x2="1462.30" y2="227.60" stroke-width="1.0" />
<line x1="1462.30" y1="227.60" x2="1470.00" y2="232.70" stroke-width="1.0" />
<line x1="1470.00" y1="227.60" x2="1462.30" y2="232.70" stroke-width="1.0" />
<line x1="1462.30" y1="232.70" x2="1470.00" y2="237.80" stroke-width="1.0" />
<line x1="1470.00" y1="232.70" x2="1462.30" y2="237.80" stroke-width="1.0" />
<line x1="1462.30" y1="237.80" x2="1470.00" y2="242.90" stroke-width="1.0" />
<line x1="1470.00" y1="237.80" x2="1462.30" y2="242.90" stroke-width="1.0" />
<line x1="1462.30" y1="242.90" x2="1470.00" y2="248.00" stroke-width="1.0" />
<line x1="1470.00" y1="242.90" x2="1462.30" y2="248.00" stroke-width="1.0" />
<circle cx="1466.15" cy="219.95" r="1.50" stroke-width="1.0" fill="#fff"/>
<circle cx="1466.15" cy="225.05" r="1.50" stroke-width="1.0" fill="#fff"/>
<circle cx="1466.15" cy="230.15" r="1.50" stroke-width="1.0" fill="#fff"/>
<circle cx="1466.15" cy="235.25" r="1.50" stroke-width="1.0" fill="#fff"/>
<circle cx="1466.15" cy="240.35" r="1.50" stroke-width="1.0" fill="#fff"/>
<circle cx="1466.15" cy="245.45" r="1.50" stroke-width="1.0" fill="#fff"/>
<clipPath id="c4"><rect x="1368.2" y="249.7" width="163.3" height="23.1"/></clipPath>
<g clip-path="url(#c4)">
<line x1="1355.60" y1="249.70" x2="1332.50" y2="272.80" stroke-width="1.1" />
<line x1="1367.30" y1="249.70" x2="1344.20" y2="272.80" stroke-width="1.1" />
<line x1="1379.00" y1="249.70" x2="1355.90" y2="272.80" stroke-width="1.1" />
<line x1="1390.70" y1="249.70" x2="1367.60" y2="272.80" stroke-width="1.1" />
<line x1="1402.40" y1="249.70" x2="1379.30" y2="272.80" stroke-width="1.1" />
<line x1="1414.10" y1="249.70" x2="1391.00" y2="272.80" stroke-width="1.1" />
<line x1="1425.80" y1="249.70" x2="1402.70" y2="272.80" stroke-width="1.1" />
<line x1="1437.50" y1="249.70" x2="1414.40" y2="272.80" stroke-width="1.1" />
<line x1="1449.20" y1="249.70" x2="1426.10" y2="272.80" stroke-width="1.1" />
<line x1="1460.90" y1="249.70" x2="1437.80" y2="272.80" stroke-width="1.1" />
<line x1="1472.60" y1="249.70" x2="1449.50" y2="272.80" stroke-width="1.1" />
<line x1="1484.30" y1="249.70" x2="1461.20" y2="272.80" stroke-width="1.1" />
<line x1="1496.00" y1="249.70" x2="1472.90" y2="272.80" stroke-width="1.1" />
<line x1="1507.70" y1="249.70" x2="1484.60" y2="272.80" stroke-width="1.1" />
<line x1="1519.40" y1="249.70" x2="1496.30" y2="272.80" stroke-width="1.1" />
<line x1="1531.10" y1="249.70" x2="1508.00" y2="272.80" stroke-width="1.1" />
<line x1="1542.80" y1="249.70" x2="1519.70" y2="272.80" stroke-width="1.1" />
<line x1="1554.50" y1="249.70" x2="1531.40" y2="272.80" stroke-width="1.1" />
<line x1="1566.20" y1="249.70" x2="1543.10" y2="272.80" stroke-width="1.1" />
<line x1="1577.90" y1="249.70" x2="1554.80" y2="272.80" stroke-width="1.1" />
<line x1="1589.60" y1="249.70" x2="1566.50" y2="272.80" stroke-width="1.1" />
</g>
<rect x="1368.2" y="249.6" width="163.3" height="23.2" fill="none" stroke-width="1.45"/>
<circle cx="1433.20" cy="237.50" r="21.20" stroke-width="1.45" fill="#fff"/>
<path d="M1409.3,228.4 H1457.3 Q1460.5,237.5 1457.3,246.7 H1409.3 Q1406.1,237.5 1409.3,228.4 Z" fill="#fff" stroke-width="1.3"/>
<line x1="1429.60" y1="228.40" x2="1429.60" y2="246.70" stroke-width="1.0" />
<line x1="1433.30" y1="228.40" x2="1433.30" y2="246.70" stroke-width="1.0" />
<line x1="1437.80" y1="228.40" x2="1437.80" y2="246.70" stroke-width="1.0" />
<line x1="1411.80" y1="237.60" x2="1416.80" y2="237.60" stroke-width="1.0" />
<line x1="1420.80" y1="237.60" x2="1426.80" y2="237.60" stroke-width="1.0" />
<rect x="1427.7" y="235.6" width="11.5" height="4.2" rx="2" fill="none" stroke-width="1.1"/>
<line x1="1385.20" y1="249.60" x2="1405.70" y2="249.60" stroke-width="1.45" />
<path d="M1502.0,273.0 V248.8 Q1502.0,244.4 1506.4,244.4 H1520.6999999999998 Q1525.1,244.4 1525.1,248.8 V273.0 Z" fill="#fff" stroke-width="1.45"/>
<line x1="1506.10" y1="245.40" x2="1506.10" y2="273.00" stroke-width="0.8" />
<line x1="1520.70" y1="245.40" x2="1520.70" y2="273.00" stroke-width="0.8" />
<rect x="1508.3" y="244.4" width="10.5" height="7.9" fill="#fff" stroke-width="1.6"/>
<line x1="1510.00" y1="245.20" x2="1510.00" y2="251.60" stroke-width="0.6" />
<line x1="1511.80" y1="245.20" x2="1511.80" y2="251.60" stroke-width="0.6" />
<line x1="1515.60" y1="245.20" x2="1515.60" y2="251.60" stroke-width="0.6" />
<line x1="1517.10" y1="245.20" x2="1517.10" y2="251.60" stroke-width="0.6" />
<path d="M1509.9,252.6 L1513.5,255.5 L1517.0,252.6" stroke-width="1.0" />
<path d="M1507.3,272.4 L1513.4,265.4 L1519.8,272.4" stroke-width="1.3" />
<line x1="1513.50" y1="235.50" x2="1513.50" y2="287.00" stroke-width="0.9" />
<line x1="1279.00" y1="272.90" x2="1589.80" y2="272.90" stroke-width="1.45" />
<line x1="1278.60" y1="377.50" x2="1300.90" y2="377.50" stroke-width="1.45" />
<line x1="1565.00" y1="377.50" x2="1589.80" y2="377.50" stroke-width="1.45" />
<path d="M1279,272.9 C1264.902,284.274 1264.902,313.226 1279,324.6" stroke-width="1.3" />
<path d="M1279,324.6 C1264.902,336.238 1264.902,365.862 1279,377.5" stroke-width="1.3" />
<path d="M1279,324.6 C1293.098,336.238 1293.098,365.862 1279,377.5" stroke-width="1.3" />
<path d="M1589.8,272.9 C1603.898,284.274 1603.898,313.226 1589.8,324.6" stroke-width="1.3" />
<path d="M1589.8,324.6 C1603.898,336.238 1603.898,365.862 1589.8,377.5" stroke-width="1.3" />
<path d="M1589.8,324.6 C1575.702,336.238 1575.702,365.862 1589.8,377.5" stroke-width="1.3" />
<line x1="1278.60" y1="324.60" x2="1591.00" y2="324.60" stroke-width="1.1" />
<path d="M1300.9,324.6 V414.6 Q1300.9,418.8 1305.1,418.8 H1325.7" stroke-width="1.45" />
<path d="M1325.7,324.6 V447.7 Q1325.7,453.7 1331.7,453.7 H1334.6 Q1340.6,453.7 1340.6,447.7 V324.6" stroke-width="1.45" />
<line x1="1340.60" y1="446.30" x2="1349.30" y2="446.30" stroke-width="1.45" />
<path d="M1349.3,324.6 V450.7 Q1349.3,456.7 1355.3,456.7 H1377.8" stroke-width="1.45" />
<path d="M1361.7,324.6 A71.6,71.6 0 0 0 1377.8,370.7" stroke-width="1.45" />
<path d="M1388.3,324.6 A45,45 0 0 0 1478.3,324.6" stroke-width="1.45" />
<path d="M1377.8,370.7 V511.8 A8,8 0 0 0 1385.8,519.8 H1409.9 V493 H1454 V519.8 H1477.1 A8,8 0 0 0 1485.1,511.8 V456.7" stroke-width="1.45" />
<clipPath id="c5"><rect x="1433.5" y="376" width="107.4" height="23"/></clipPath>
<g clip-path="url(#c5)">
<line x1="1421.80" y1="376.00" x2="1398.80" y2="399.00" stroke-width="1.1" />
<line x1="1433.00" y1="376.00" x2="1410.00" y2="399.00" stroke-width="1.1" />
<line x1="1444.20" y1="376.00" x2="1421.20" y2="399.00" stroke-width="1.1" />
<line x1="1455.40" y1="376.00" x2="1432.40" y2="399.00" stroke-width="1.1" />
<line x1="1466.60" y1="376.00" x2="1443.60" y2="399.00" stroke-width="1.1" />
<line x1="1477.80" y1="376.00" x2="1454.80" y2="399.00" stroke-width="1.1" />
<line x1="1489.00" y1="376.00" x2="1466.00" y2="399.00" stroke-width="1.1" />
<line x1="1500.20" y1="376.00" x2="1477.20" y2="399.00" stroke-width="1.1" />
<line x1="1511.40" y1="376.00" x2="1488.40" y2="399.00" stroke-width="1.1" />
<line x1="1522.60" y1="376.00" x2="1499.60" y2="399.00" stroke-width="1.1" />
<line x1="1533.80" y1="376.00" x2="1510.80" y2="399.00" stroke-width="1.1" />
<line x1="1545.00" y1="376.00" x2="1522.00" y2="399.00" stroke-width="1.1" />
<line x1="1556.20" y1="376.00" x2="1533.20" y2="399.00" stroke-width="1.1" />
<line x1="1567.40" y1="376.00" x2="1544.40" y2="399.00" stroke-width="1.1" />
<line x1="1578.60" y1="376.00" x2="1555.60" y2="399.00" stroke-width="1.1" />
<line x1="1589.80" y1="376.00" x2="1566.80" y2="399.00" stroke-width="1.1" />
</g>
<rect x="1433.5" y="376" width="107.4" height="23" fill="none" stroke-width="1.45"/>
<clipPath id="c6"><path d="M1433.5,425 H1461.8 V434.3 L1474.2,436.5 V439.6 Q1455,448.5 1433.5,448.8 Z"/></clipPath>
<g clip-path="url(#c6)">
<line x1="1396.50" y1="424.00" x2="1422.50" y2="450.00" stroke-width="1.05" />
<line x1="1407.00" y1="424.00" x2="1433.00" y2="450.00" stroke-width="1.05" />
<line x1="1417.50" y1="424.00" x2="1443.50" y2="450.00" stroke-width="1.05" />
<line x1="1428.00" y1="424.00" x2="1454.00" y2="450.00" stroke-width="1.05" />
<line x1="1438.50" y1="424.00" x2="1464.50" y2="450.00" stroke-width="1.05" />
<line x1="1449.00" y1="424.00" x2="1475.00" y2="450.00" stroke-width="1.05" />
<line x1="1459.50" y1="424.00" x2="1485.50" y2="450.00" stroke-width="1.05" />
<line x1="1470.00" y1="424.00" x2="1496.00" y2="450.00" stroke-width="1.05" />
<line x1="1480.50" y1="424.00" x2="1506.50" y2="450.00" stroke-width="1.05" />
<line x1="1491.00" y1="424.00" x2="1517.00" y2="450.00" stroke-width="1.05" />
<line x1="1501.50" y1="424.00" x2="1527.50" y2="450.00" stroke-width="1.05" />
</g>
<path d="M1433.5,448.8 Q1455,448.5 1474.2,439.6" stroke-width="1.45" />
<line x1="1448.00" y1="425.00" x2="1461.80" y2="425.00" stroke-width="1.2" />
<path d="M1433.5,390.4 A20.6,20.6 0 0 1 1433.5,431.6" stroke-width="1.45" fill="#fff"/>
<path d="M1433.5,401.5 H1456 Q1460.5,411 1456,420.5 H1433.5" fill="#fff" stroke-width="1.2"/>
<line x1="1433.50" y1="410.70" x2="1458.80" y2="410.70" stroke-width="1.0" />
<line x1="1438.40" y1="401.50" x2="1438.40" y2="420.50" stroke-width="1.0" />
<rect x="1433.5" y="407.6" width="5.4" height="6" rx="2" fill="none" stroke-width="0.9"/>
<rect x="1461.8" y="399.5" width="7.2000000000000455" height="34.80000000000001" fill="#fff" stroke-width="1.3" rx="1.5"/>
<line x1="1461.80" y1="401.60" x2="1469.00" y2="406.70" stroke-width="1.0" />
<line x1="1469.00" y1="401.60" x2="1461.80" y2="406.70" stroke-width="1.0" />
<line x1="1461.80" y1="406.70" x2="1469.00" y2="411.80" stroke-width="1.0" />
<line x1="1469.00" y1="406.70" x2="1461.80" y2="411.80" stroke-width="1.0" />
<line x1="1461.80" y1="411.80" x2="1469.00" y2="416.90" stroke-width="1.0" />
<line x1="1469.00" y1="411.80" x2="1461.80" y2="416.90" stroke-width="1.0" />
<line x1="1461.80" y1="416.90" x2="1469.00" y2="422.00" stroke-width="1.0" />
<line x1="1469.00" y1="416.90" x2="1461.80" y2="422.00" stroke-width="1.0" />
<line x1="1461.80" y1="422.00" x2="1469.00" y2="427.10" stroke-width="1.0" />
<line x1="1469.00" y1="422.00" x2="1461.80" y2="427.10" stroke-width="1.0" />
<line x1="1461.80" y1="427.10" x2="1469.00" y2="432.20" stroke-width="1.0" />
<line x1="1469.00" y1="427.10" x2="1461.80" y2="432.20" stroke-width="1.0" />
<circle cx="1465.40" cy="404.15" r="1.50" stroke-width="1.0" fill="#fff"/>
<circle cx="1465.40" cy="409.25" r="1.50" stroke-width="1.0" fill="#fff"/>
<circle cx="1465.40" cy="414.35" r="1.50" stroke-width="1.0" fill="#fff"/>
<circle cx="1465.40" cy="419.45" r="1.50" stroke-width="1.0" fill="#fff"/>
<circle cx="1465.40" cy="424.55" r="1.50" stroke-width="1.0" fill="#fff"/>
<circle cx="1465.40" cy="429.65" r="1.50" stroke-width="1.0" fill="#fff"/>
<path d="M1471,427.8 V400.9 H1481.5" stroke-width="1.1" />
<path d="M1474.2,399.8 V448.7 Q1474.2,456.7 1482.2,456.7 H1508.9 Q1516.9,456.7 1516.9,448.7 V399.8" stroke-width="1.45" />
<line x1="1516.90" y1="445.80" x2="1525.60" y2="445.80" stroke-width="1.45" />
<path d="M1525.6,399.8 V450.7 Q1525.6,456.7 1531.6,456.7 H1534.9 Q1540.9,456.7 1540.9,450.7 V399.8" stroke-width="1.45" />
<path d="M1543.1,324.6 V418.4 H1560 Q1565,418.4 1565,413.4 V324.6" stroke-width="1.45" />
<line x1="1558.40" y1="324.60" x2="1558.40" y2="418.40" stroke-width="1.1" />
<line x1="1301.70" y1="419.00" x2="1301.70" y2="633.00" stroke-width="1.05" />
<line x1="1565.40" y1="419.00" x2="1565.40" y2="633.00" stroke-width="1.05" />
<line x1="1301.70" y1="630.00" x2="1565.40" y2="630.00" stroke-width="1.05" />
<path d="M1301.70,630.00 L1319.20,626.90 L1319.20,633.10 Z" fill="#000" stroke="none"/>
<path d="M1565.40,630.00 L1547.90,633.10 L1547.90,626.90 Z" fill="#000" stroke="none"/>
<text transform="translate(1423.77 621.80) scale(1.093 1)" font-size="34.90" fill="#000" stroke="#fff" stroke-width="0.7" font-family='"Liberation Sans", sans-serif'>h</text>
<line x1="1409.90" y1="525.00" x2="1409.90" y2="561.00" stroke-width="1.05" />
<line x1="1454.00" y1="525.00" x2="1454.00" y2="561.00" stroke-width="1.05" />
<line x1="1378.40" y1="556.00" x2="1486.70" y2="556.00" stroke-width="1.05" />
<path d="M1409.90,556.00 L1392.40,559.10 L1392.40,552.90 Z" fill="#000" stroke="none"/>
<path d="M1454.00,556.00 L1471.50,552.90 L1471.50,559.10 Z" fill="#000" stroke="none"/>
<text transform="translate(1425.42 549.10) scale(0.977 1)" font-size="34.90" fill="#000" stroke="#fff" stroke-width="0.7" font-family='"Liberation Sans", sans-serif'>k</text>
<line x1="1378.40" y1="514.00" x2="1378.40" y2="598.50" stroke-width="1.05" />
<line x1="1484.90" y1="514.00" x2="1484.90" y2="598.50" stroke-width="1.05" />
<line x1="1378.40" y1="594.60" x2="1484.90" y2="594.60" stroke-width="1.05" />
<path d="M1378.40,594.60 L1395.90,591.50 L1395.90,597.70 Z" fill="#000" stroke="none"/>
<path d="M1484.90,594.60 L1467.40,597.70 L1467.40,591.50 Z" fill="#000" stroke="none"/>
<text transform="translate(1429.86 586.60) scale(1.000 1)" font-size="34.90" fill="#000" stroke="#fff" stroke-width="0.7" font-family='"Liberation Sans", sans-serif'>l</text>
<line x1="1332.00" y1="299.80" x2="1433.30" y2="324.60" stroke-width="1.05" />
<path d="M1364.10,307.70 L1346.37,306.53 L1347.85,300.51 Z" fill="#000" stroke="none"/>
<g transform="translate(1386.00 297.50) rotate(13.8)"><text x="-2.04" y="8.03" font-size="31.08" fill="#000" stroke="#fff" stroke-width="0.7" font-family='"Liberation Sans", sans-serif'>j</text></g>
<path d="M1365.6,303.5 Q1362.8,310 1361.8,318.5" stroke-width="0.9" />
<line x1="1433.30" y1="108.20" x2="1433.30" y2="141.80" stroke-width="1.05" />
<line x1="1433.30" y1="148.00" x2="1433.30" y2="155.10" stroke-width="1.05" />
<line x1="1433.30" y1="161.20" x2="1433.30" y2="184.70" stroke-width="1.05" />
<line x1="1433.30" y1="190.80" x2="1433.30" y2="197.60" stroke-width="1.05" />
<line x1="1433.30" y1="202.70" x2="1433.30" y2="278.20" stroke-width="1.05" />
<line x1="1433.30" y1="284.00" x2="1433.30" y2="291.00" stroke-width="1.05" />
<line x1="1433.30" y1="297.00" x2="1433.30" y2="369.60" stroke-width="1.05" />
<line x1="1433.30" y1="376.00" x2="1433.30" y2="478.60" stroke-width="1.05" />
<line x1="1433.30" y1="485.70" x2="1433.30" y2="492.90" stroke-width="1.05" />
</g>
</svg></body></html>
